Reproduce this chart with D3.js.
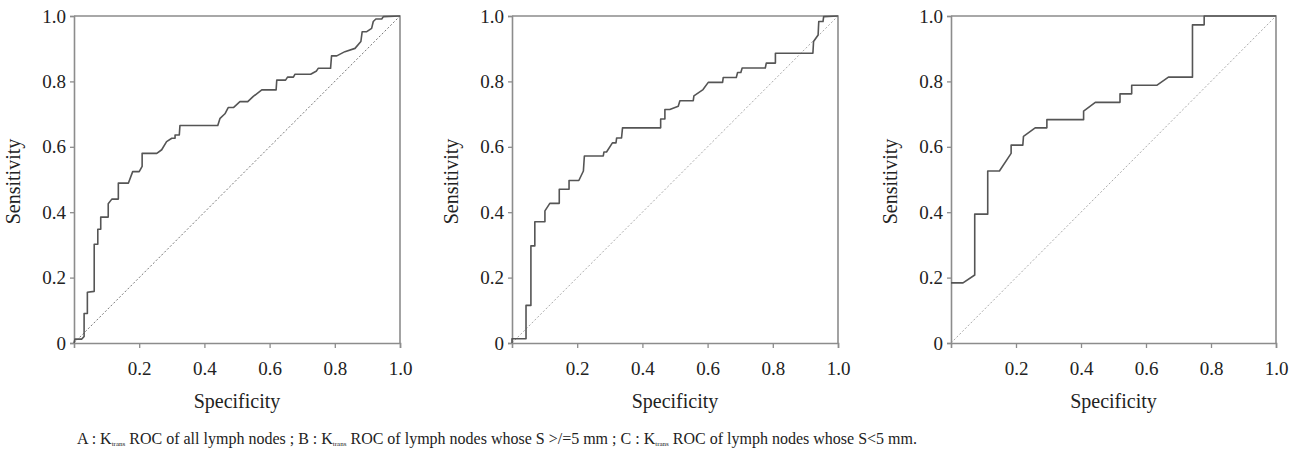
<!DOCTYPE html>
<html>
<head>
<meta charset="utf-8">
<script src="https://cdn.jsdelivr.net/npm/d3@7.9.0/dist/d3.min.js"></script>
<style>
  body { margin: 0; background: #fff; }
</style>
</head>
<body>
<div id="chart"></div>
<script>
// ROC points: x = "Specificity" axis, y = Sensitivity
const rocAx = [0, 0.003, 0.024, 0.031, 0.031, 0.041, 0.041, 0.062, 0.062, 0.073, 0.073, 0.082, 0.082, 0.105, 0.105, 0.116, 0.136, 0.136, 0.167, 0.180, 0.200, 0.209, 0.209, 0.254, 0.269, 0.284, 0.300, 0.310, 0.310, 0.323, 0.325, 0.441, 0.448, 0.463, 0.473, 0.489, 0.509, 0.533, 0.550, 0.576, 0.620, 0.622, 0.649, 0.655, 0.673, 0.678, 0.726, 0.744, 0.749, 0.787, 0.790, 0.806, 0.831, 0.862, 0.880, 0.884, 0.898, 0.913, 0.918, 0.926, 0.944, 0.949, 1];
const rocAy = [0, 0.012, 0.012, 0.020, 0.090, 0.090, 0.155, 0.158, 0.302, 0.302, 0.348, 0.348, 0.385, 0.385, 0.426, 0.440, 0.440, 0.489, 0.489, 0.524, 0.524, 0.540, 0.580, 0.580, 0.591, 0.616, 0.626, 0.626, 0.636, 0.636, 0.665, 0.665, 0.687, 0.701, 0.720, 0.720, 0.738, 0.738, 0.754, 0.774, 0.774, 0.804, 0.804, 0.813, 0.813, 0.822, 0.822, 0.832, 0.840, 0.840, 0.878, 0.878, 0.891, 0.901, 0.922, 0.952, 0.952, 0.962, 0.983, 0.991, 0.991, 0.998, 1];

const rocBx = [0, 0, 0.043, 0.043, 0.058, 0.058, 0.070, 0.070, 0.101, 0.101, 0.116, 0.145, 0.145, 0.175, 0.175, 0.205, 0.219, 0.222, 0.280, 0.282, 0.290, 0.308, 0.319, 0.321, 0.336, 0.339, 0.456, 0.456, 0.469, 0.469, 0.484, 0.510, 0.515, 0.556, 0.558, 0.586, 0.602, 0.646, 0.648, 0.688, 0.692, 0.702, 0.706, 0.777, 0.780, 0.808, 0.808, 0.923, 0.925, 0.939, 0.941, 0.954, 0.956, 1];
const rocBy = [0, 0.013, 0.013, 0.115, 0.115, 0.297, 0.297, 0.371, 0.371, 0.404, 0.427, 0.427, 0.470, 0.470, 0.497, 0.497, 0.526, 0.572, 0.572, 0.584, 0.584, 0.612, 0.612, 0.627, 0.627, 0.658, 0.658, 0.685, 0.685, 0.714, 0.714, 0.724, 0.741, 0.741, 0.756, 0.775, 0.797, 0.797, 0.812, 0.812, 0.827, 0.827, 0.841, 0.841, 0.856, 0.856, 0.886, 0.886, 0.922, 0.942, 0.983, 0.983, 0.998, 1];

const rocCx = [0, 0.037, 0.073, 0.073, 0.113, 0.113, 0.149, 0.185, 0.185, 0.221, 0.223, 0.259, 0.295, 0.295, 0.408, 0.408, 0.444, 0.520, 0.520, 0.556, 0.556, 0.633, 0.669, 0.743, 0.743, 0.779, 0.779, 1];
const rocCy = [0.184, 0.184, 0.208, 0.394, 0.394, 0.526, 0.526, 0.580, 0.605, 0.605, 0.632, 0.658, 0.658, 0.683, 0.683, 0.709, 0.736, 0.736, 0.762, 0.762, 0.788, 0.788, 0.813, 0.813, 0.973, 0.973, 1, 1];

const yTicks = [0, 0.2, 0.4, 0.6, 0.8, 1.0];
const xTicks = [0.2, 0.4, 0.6, 0.8, 1.0];

const width = 1300;
const height = 456;
const serif = "Liberation Serif";

const panels = [
  { xs: rocAx, ys: rocAy, left: 74, right: 400, diag: "#777" },
  { xs: rocBx, ys: rocBy, left: 512, right: 838, diag: "#aaa" },
  { xs: rocCx, ys: rocCy, left: 951, right: 1276, diag: "#aaa" }
];

const plotTop = 16;
const plotBottom = 343;
const axisColor = "#8c8c8c";

const svg = d3.select("#chart")
  .append("svg")
  .attr("width", width)
  .attr("height", height)
  .attr("font-family", serif);

panels.forEach(p => {
  const x = d3.scaleLinear().domain([0, 1]).range([p.left, p.right]);
  const y = d3.scaleLinear().domain([0, 1]).range([plotBottom, plotTop]);
  const g = svg.append("g");

  // top and right frame
  g.append("path")
    .attr("d", `M${x(0)},${y(1)}H${x(1)}V${y(0)}`)
    .attr("fill", "none")
    .attr("stroke", axisColor)
    .attr("stroke-width", 1.6);

  // reference diagonal
  g.append("line")
    .attr("x1", x(0)).attr("y1", y(0))
    .attr("x2", x(1)).attr("y2", y(1))
    .attr("stroke", p.diag)
    .attr("stroke-width", 1)
    .attr("stroke-dasharray", "2,2");

  const xAxis = g.append("g")
    .attr("transform", `translate(0,${plotBottom})`)
    .call(d3.axisBottom(x).tickValues(xTicks).tickSize(5).tickPadding(14)
      .tickFormat(d3.format(".1f")));

  const yAxis = g.append("g")
    .attr("transform", `translate(${p.left},0)`)
    .call(d3.axisLeft(y).tickValues(yTicks).tickSize(4).tickPadding(4)
      .tickFormat(d => d === 0 ? "0" : d3.format(".1f")(d)));

  [xAxis, yAxis].forEach(a => {
    a.attr("font-family", serif).attr("font-size", 19);
    a.select(".domain").attr("stroke", axisColor).attr("stroke-width", 1.6);
    a.selectAll(".tick line").attr("stroke", axisColor).attr("stroke-width", 1.3);
    a.selectAll("text").attr("fill", "#222");
  });

  const pts = p.xs.map((v, i) => [v, p.ys[i]]);
  g.append("path")
    .datum(pts)
    .attr("fill", "none")
    .attr("stroke", "#555")
    .attr("stroke-width", 1.6)
    .attr("stroke-linejoin", "round")
    .attr("d", d3.line().x(d => x(d[0])).y(d => y(d[1])));

  g.append("text")
    .attr("x", (p.left + p.right) / 2)
    .attr("y", 408)
    .attr("text-anchor", "middle")
    .attr("fill", "#222")
    .attr("font-size", 20)
    .text("Specificity");

  g.append("text")
    .attr("transform", `translate(${p.left - 54},${(plotTop + plotBottom) / 2 + 2}) rotate(-90)`)
    .attr("text-anchor", "middle")
    .attr("fill", "#222")
    .attr("font-size", 20)
    .text("Sensitivity");
});

// caption
const cap = svg.append("text")
  .attr("x", 77)
  .attr("y", 444)
  .attr("fill", "#222")
  .attr("font-size", 16);

const parts = [
  ["A : K", false], ["trans", true], [" ROC of all lymph nodes ;  B : K", false], ["trans", true],
  [" ROC of lymph nodes whose S >/=5 mm ;  C : K", false], ["trans", true],
  [" ROC of lymph nodes whose S<5 mm.", false]
];
parts.forEach(([t, sub], i) => {
  const ts = cap.append("tspan").text(t);
  if (sub) ts.attr("font-size", 7).attr("dy", 2);
  else if (i > 0) ts.attr("dy", -2);
});
</script>
</body>
</html>
